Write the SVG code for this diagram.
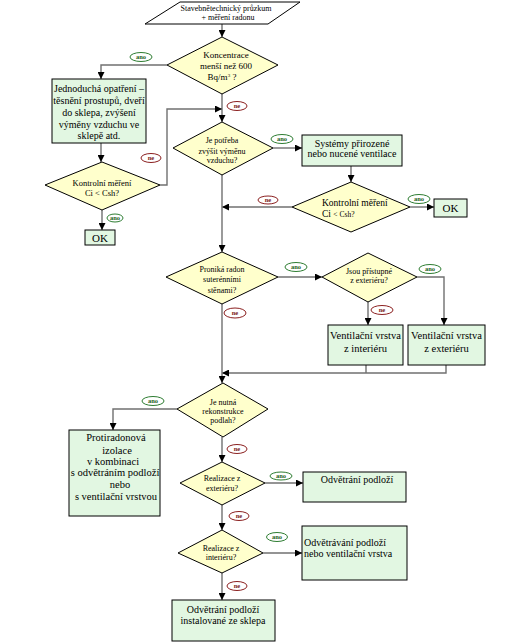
<svg xmlns="http://www.w3.org/2000/svg" width="517" height="643" viewBox="0 0 517 643">
<style>
.bg{fill:#ffffff}
.dia{fill:#ffffcc;stroke:#000;stroke-width:1}
.box{fill:#e2f7e2;stroke:#000;stroke-width:1}
.par{fill:#ffffff;stroke:#000;stroke-width:1}
.t{font-family:"Liberation Serif","Times New Roman",serif;fill:#000;text-anchor:middle}
.tl{font-family:"Liberation Serif","Times New Roman",serif;fill:#000;text-anchor:start}
.con{fill:none;stroke:#707070;stroke-width:1.4}
.ano ellipse{fill:#fff;stroke:#2e7d32;stroke-width:1}
.ano text{font-family:"Liberation Serif",serif;font-size:6.5px;font-weight:bold;fill:#1b5e20;text-anchor:middle}
.ne ellipse{fill:#fff;stroke:#8b2020;stroke-width:1}
.ne text{font-family:"Liberation Serif",serif;font-size:6.5px;font-weight:bold;fill:#7a1a1a;text-anchor:middle}
</style>
<defs>
<marker id="ah" viewBox="0 0 10 10" refX="10" refY="5" markerWidth="7" markerHeight="7" markerUnits="userSpaceOnUse" orient="auto">
<path d="M0,0 L10,5 L0,10 z" fill="#000"/>
</marker>
</defs>
<rect class="bg" x="0" y="0" width="517" height="643"/>

<g id="connectors">
<path class="con" d="M222,24 V37" marker-end="url(#ah)"/>
<path class="con" d="M167,65 H101 V79" marker-end="url(#ah)"/>
<path class="con" d="M222,94 V122" marker-end="url(#ah)"/>
<path class="con" d="M101,143 V162" marker-end="url(#ah)"/>
<path class="con" d="M160,185 H167 V109 H222" marker-end="url(#ah)"/>
<path class="con" d="M102,210 V230" marker-end="url(#ah)"/>
<path class="con" d="M273,148 H302" marker-end="url(#ah)"/>
<path class="con" d="M351,166 V182" marker-end="url(#ah)"/>
<path class="con" d="M410,207 H434" marker-end="url(#ah)"/>
<path class="con" d="M292,207 H222" marker-end="url(#ah)"/>
<path class="con" d="M222,175 V252" marker-end="url(#ah)"/>
<path class="con" d="M278,277 H322" marker-end="url(#ah)"/>
<path class="con" d="M417,277 H444 V325" marker-end="url(#ah)"/>
<path class="con" d="M368,302 V325" marker-end="url(#ah)"/>
<path class="con" d="M366,365 V373"/>
<path class="con" d="M446,365 V373 H222" marker-end="url(#ah)"/>
<path class="con" d="M222,304 V383" marker-end="url(#ah)"/>
<path class="con" d="M177,409 H113 V430" marker-end="url(#ah)"/>
<path class="con" d="M222,437 V462" marker-end="url(#ah)"/>
<path class="con" d="M265,483 H303" marker-end="url(#ah)"/>
<path class="con" d="M222,505 V530" marker-end="url(#ah)"/>
<path class="con" d="M263,553 H302" marker-end="url(#ah)"/>
<path class="con" d="M222,573 V600" marker-end="url(#ah)"/>
</g>

<g id="start">
<polygon class="par" points="180,2 300,2 268,24 145,24"/>
<text class="t" font-size="8" x="226" y="11">Stavebnětechnický průzkum</text>
<text class="t" font-size="8" x="228" y="20">+ měření radonu</text>
</g>

<g id="d1">
<polygon class="dia" points="222,37 278,65 222,94 167,65"/>
<text class="t" font-size="9" x="226" y="58">Koncentrace</text>
<text class="t" font-size="9" x="226" y="69">menší než  600</text>
<text class="t" font-size="9" x="222" y="80">Bq/m<tspan font-size="5" dy="-3">3</tspan><tspan dy="3"> ?</tspan></text>
</g>

<g id="b1">
<rect class="box" x="52" y="79" width="94" height="64"/>
<text class="t" font-size="10" x="99" y="91.5">Jednoduchá opatření –</text>
<text class="t" font-size="10" x="99" y="103.5">těsnění prostupů, dveří</text>
<text class="t" font-size="10" x="99" y="115.5">do sklepa, zvýšení</text>
<text class="t" font-size="10" x="99" y="127.5">výměny vzduchu ve</text>
<text class="t" font-size="10" x="99" y="139">sklepě atd.</text>
</g>

<g id="d2">
<polygon class="dia" points="102,162 160,185 102,210 45,185"/>
<text class="t" font-size="8.5" x="102" y="186">Kontrolní měření</text>
<text class="t" font-size="8.5" x="102" y="196">Ci &lt; Csh?</text>
</g>

<g id="ok1">
<rect class="box" x="85" y="230" width="30" height="15"/>
<text class="t" font-size="11" x="100" y="241.5">OK</text>
</g>

<g id="d3">
<polygon class="dia" points="222,122 273,148 222,175 173,148"/>
<text class="t" font-size="8" x="222" y="143">Je potřeba</text>
<text class="t" font-size="8" x="222" y="154">zvýšit výměnu</text>
<text class="t" font-size="8" x="222" y="163">vzduchu?</text>
</g>

<g id="b2">
<rect class="box" x="302" y="135" width="100" height="31"/>
<text class="t" font-size="10" x="352" y="146.5">Systémy přirozené</text>
<text class="t" font-size="10" x="352" y="157">nebo nucené ventilace</text>
</g>

<g id="d4">
<polygon class="dia" points="351,182 410,207 351,232 292,207"/>
<text class="tl" font-size="9.5" x="322" y="205.5">Kontrolní měření</text>
<text class="tl" font-size="9.5" x="322" y="216.5">Ci  <tspan font-size="7.5">&lt; Csh?</tspan></text>
</g>

<g id="ok2">
<rect class="box" x="434" y="199" width="33" height="18"/>
<text class="t" font-size="11" x="450.5" y="212">OK</text>
</g>

<g id="d5">
<polygon class="dia" points="222,252 278,277 222,304 166,277"/>
<text class="t" font-size="8" x="222" y="272">Proniká radon</text>
<text class="t" font-size="8" x="222" y="282">suterénními</text>
<text class="t" font-size="8" x="222" y="293">stěnami?</text>
</g>

<g id="d6">
<polygon class="dia" points="368,253 417,277 368,302 322,277"/>
<text class="t" font-size="8" x="369" y="274">Jsou přístupné</text>
<text class="t" font-size="8" x="369" y="283">z exteriéru?</text>
</g>

<g id="b3">
<rect class="box" x="328" y="325" width="75" height="40"/>
<text class="t" font-size="10.5" x="365.5" y="339">Ventilační vrstva</text>
<text class="t" font-size="10.5" x="365.5" y="352">z interiéru</text>
</g>

<g id="b4">
<rect class="box" x="408" y="325" width="77" height="40"/>
<text class="t" font-size="10.5" x="446.5" y="339">Ventilační vrstva</text>
<text class="t" font-size="10.5" x="446.5" y="352">z exteriéru</text>
</g>

<g id="d7">
<polygon class="dia" points="223,383 268,409 223,437 177,409"/>
<text class="t" font-size="8" x="223" y="405">Je nutná</text>
<text class="t" font-size="8" x="223" y="414">rekonstrukce</text>
<text class="t" font-size="8" x="223" y="423">podlah?</text>
</g>

<g id="b5">
<rect class="box" x="69" y="430" width="91" height="86"/>
<text class="t" font-size="10.5" x="116" y="441">Protiradonová</text>
<text class="t" font-size="10.5" x="117" y="453.5">izolace</text>
<text class="t" font-size="10.5" x="113" y="465">v kombinaci</text>
<text class="t" font-size="10.5" x="115" y="476">s odvětráním podloží</text>
<text class="t" font-size="10.5" x="120" y="488">nebo</text>
<text class="t" font-size="10.5" x="116" y="500">s ventilační vrstvou</text>
</g>

<g id="d8">
<polygon class="dia" points="222,462 265,483 222,505 180,483"/>
<text class="t" font-size="8" x="222" y="481">Realizace z</text>
<text class="t" font-size="8" x="222" y="491">exteriéru?</text>
</g>

<g id="b6">
<rect class="box" x="303" y="472" width="103" height="30"/>
<text class="t" font-size="10" x="357" y="482.5">Odvětrání podloží</text>
</g>

<g id="d9">
<polygon class="dia" points="222,530 263,553 222,573 178,553"/>
<text class="t" font-size="8" x="221" y="551">Realizace z</text>
<text class="t" font-size="8" x="221" y="560">interiéru?</text>
</g>

<g id="b7">
<rect class="box" x="302" y="526" width="105" height="54"/>
<text class="tl" font-size="10" x="304" y="545.5">Odvětrávání podloží</text>
<text class="tl" font-size="10" x="304" y="556.5">nebo ventilační vrstva</text>
</g>

<g id="b8">
<rect class="box" x="172" y="600" width="103" height="41"/>
<text class="t" font-size="10" x="223" y="612.5">Odvětrání podloží</text>
<text class="t" font-size="10" x="223" y="623.5">instalované ze sklepa</text>
</g>

<g id="labels">
<g class="ano"><ellipse cx="141" cy="57" rx="11" ry="4.5"/><text x="141" y="59.3">ano</text></g>
<g class="ne"><ellipse cx="237" cy="106" rx="10" ry="4.5"/><text x="237" y="108.3">ne</text></g>
<g class="ne"><ellipse cx="151" cy="158" rx="10" ry="4.5"/><text x="151" y="160.3">ne</text></g>
<g class="ano"><ellipse cx="115" cy="218" rx="8" ry="4"/><text x="115" y="220.3">ano</text></g>
<g class="ano"><ellipse cx="282" cy="139" rx="11" ry="4.5"/><text x="282" y="141.3">ano</text></g>
<g class="ano"><ellipse cx="419" cy="199" rx="11" ry="4.5"/><text x="419" y="201.3">ano</text></g>
<g class="ne"><ellipse cx="268" cy="200" rx="10" ry="4"/><text x="268" y="202.3">ne</text></g>
<g class="ano"><ellipse cx="296" cy="267" rx="11" ry="4.5"/><text x="296" y="269.3">ano</text></g>
<g class="ano"><ellipse cx="430" cy="269" rx="11" ry="4.5"/><text x="430" y="271.3">ano</text></g>
<g class="ne"><ellipse cx="382" cy="310" rx="11" ry="4.5"/><text x="382" y="312.3">ne</text></g>
<g class="ne"><ellipse cx="235" cy="313" rx="11" ry="5"/><text x="235" y="315.3">ne</text></g>
<g class="ano"><ellipse cx="153" cy="401" rx="11" ry="4.5"/><text x="153" y="403.3">ano</text></g>
<g class="ne"><ellipse cx="237" cy="449" rx="10" ry="4.5"/><text x="237" y="451.3">ne</text></g>
<g class="ano"><ellipse cx="281" cy="476" rx="11" ry="4"/><text x="281" y="478.3">ano</text></g>
<g class="ne"><ellipse cx="239" cy="516" rx="10" ry="4.5"/><text x="239" y="518.3">ne</text></g>
<g class="ano"><ellipse cx="277" cy="537" rx="10.5" ry="4.5"/><text x="277" y="539.3">ano</text></g>
<g class="ne"><ellipse cx="237" cy="586" rx="10" ry="4.5"/><text x="237" y="588.3">ne</text></g>
</g>
</svg>
